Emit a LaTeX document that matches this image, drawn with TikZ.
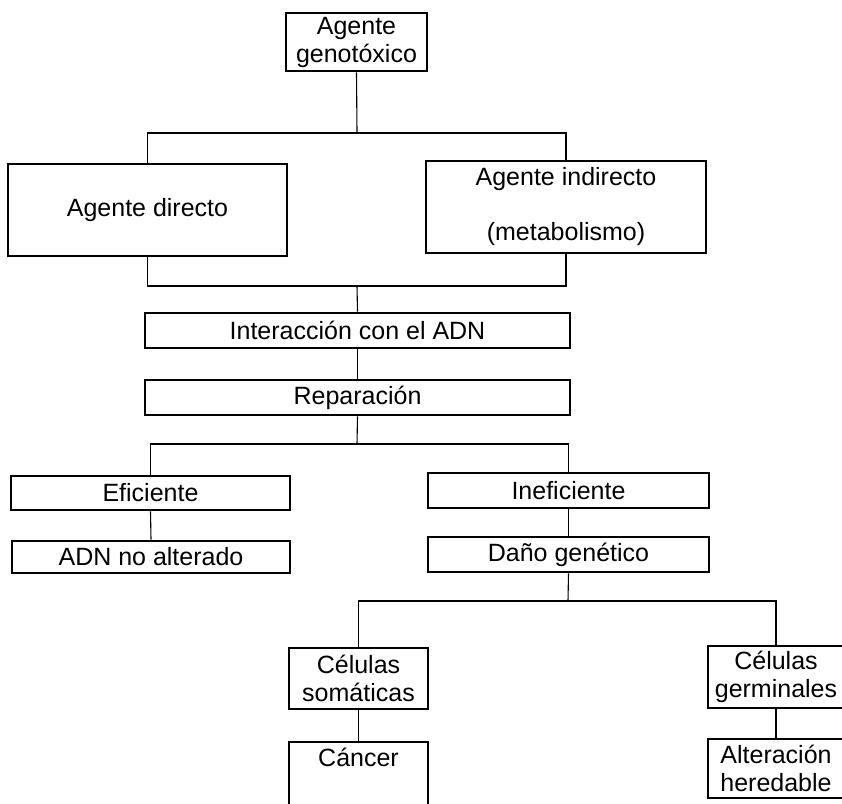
\documentclass[tikz,border=0pt]{standalone}
\usepackage{fontspec}
\setmainfont{Liberation Sans}
\begin{document}
\begin{tikzpicture}[x=1pt,y=-1pt,
  stepbox/.style={draw=black, line width=2.6pt, rectangle, inner sep=0pt, align=center,
    font=\fontsize{25}{28}\selectfont},
  txt/.style={inner sep=0pt, align=center, font=\fontsize{25}{28}\selectfont},
  conn/.style={draw=black, line width=1.1pt}]
\useasboundingbox[fill=white] (0,0) rectangle (842,803);

\node[stepbox, minimum width=141pt, minimum height=58pt] (top) at (356.5,42) {Agente\\genotóxico};
\node[stepbox, minimum width=279pt, minimum height=92pt] (dir) at (147.5,210) {Agente directo};
\node[stepbox, minimum width=280pt, minimum height=92pt] (ind) at (566,207) {Agente indirecto\\[27pt](metabolismo)};
\node[stepbox, minimum width=425pt, minimum height=35pt] (inter) at (357.5,330.5) {Interacción con el ADN};
\node[stepbox, minimum width=425pt, minimum height=35pt] (rep) at (357.5,397.5) {Reparación};
\node[stepbox, minimum width=279pt, minimum height=34pt] (efi) at (150.5,493) {Eficiente};
\node[stepbox, minimum width=281pt, minimum height=35pt] (inef) at (568.5,490.5) {Ineficiente};
\node[stepbox, minimum width=278pt, minimum height=32pt] (adn) at (151,557) {ADN no alterado};
\node[stepbox, minimum width=281pt, minimum height=35pt] (dano) at (568.5,554.5) {Daño genético};
\node[stepbox, minimum width=139pt, minimum height=61pt] (som) at (358.5,678.5) {Células\\somáticas};
\node[stepbox, minimum width=136pt, minimum height=62pt] (germ) at (776,677) {Células\\germinales};
\node[stepbox, minimum width=139pt, minimum height=74pt] (cancer) at (358.5,779) {};
\node[txt] (cancert) at (358.5,757) {Cáncer};
\node[stepbox, minimum width=136pt, minimum height=59pt] (alt) at (776,768.5) {Alteración\\heredable};

\coordinate (j1) at (357,133);
\coordinate (j2) at (357,286);
\coordinate (j3) at (357,444);
\coordinate (j4) at (568,601);

\draw[conn] (top.south) -- (j1);
\draw[conn] (j1) -| (dir.north);
\draw[conn] (j1) -| (ind.north);
\draw[conn] (dir.south) -- (dir.south |- j2) -- (ind.south |- j2) -- (ind.south);
\draw[conn] (j2) -- (inter.north);
\draw[conn] (inter.south) -- (rep.north);
\draw[conn] (rep.south) -- (j3);
\draw[conn] (j3) -| (efi.north);
\draw[conn] (j3) -| (inef.north);
\draw[conn] (efi.south) -- (adn.north);
\draw[conn] (inef.south) -- (dano.north);
\draw[conn] (dano.south) -- (j4);
\draw[conn] (j4) -| (som.north);
\draw[conn] (j4) -| (germ.north);
\draw[conn] (som.south) -- (cancer.north);
\draw[conn] (germ.south) -- (alt.north);
\end{tikzpicture}
\end{document}
